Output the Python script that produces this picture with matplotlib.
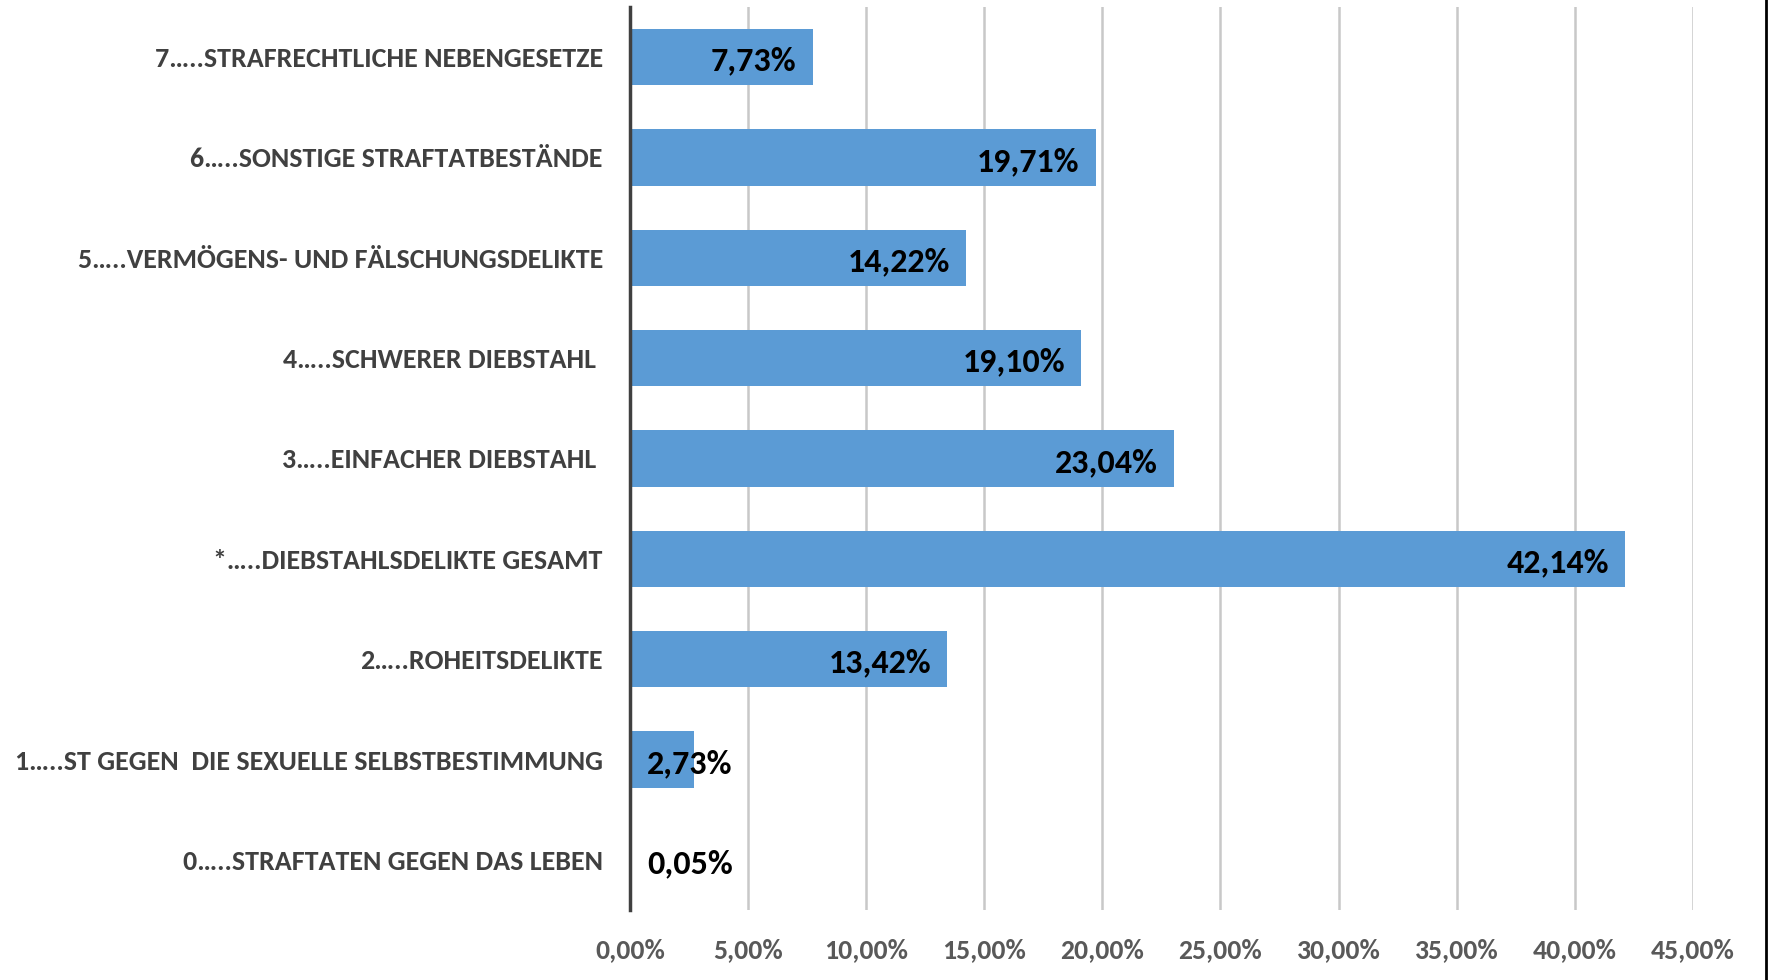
import matplotlib.pyplot as plt
from matplotlib.lines import Line2D
from matplotlib.ticker import FuncFormatter

plt.rcParams['font.family'] = ['Carlito', 'Liberation Sans', 'DejaVu Sans']

# Kategorien von unten nach oben
categories = [
    "0…..STRAFTATEN GEGEN DAS LEBEN",
    "1…..ST GEGEN  DIE SEXUELLE SELBSTBESTIMMUNG",
    "2…..ROHEITSDELIKTE",
    "*…..DIEBSTAHLSDELIKTE GESAMT",
    "3…..EINFACHER DIEBSTAHL ",
    "4…..SCHWERER DIEBSTAHL ",
    "5…..VERMÖGENS- UND FÄLSCHUNGSDELIKTE",
    "6…..SONSTIGE STRAFTATBESTÄNDE",
    "7…..STRAFRECHTLICHE NEBENGESETZE",
]
shares = [0.05, 2.73, 13.42, 42.14, 23.04, 19.10, 14.22, 19.71, 7.73]
x_ticks = [0, 5, 10, 15, 20, 25, 30, 35, 40, 45]

BAR_COLOR = "#5B9BD5"


def pct(v):
    return f"{v:.2f}%".replace(".", ",")


fig = plt.figure(figsize=(17.69, 9.80), dpi=100)
ax = fig.add_axes((0.3561, 0.0714, 0.6009, 0.9215))

ypos = list(range(len(categories)))
ax.barh(ypos, shares, height=0.56, color=BAR_COLOR, zorder=2)

# Datenbeschriftungen (bei kurzen Balken links am Balkenanfang)
for y, v in zip(ypos, shares):
    if v < 5:
        ax.annotate(pct(v), (0, y), xytext=(17, -4), textcoords="offset pixels",
                    ha="left", va="center", fontsize=24.5, fontweight="bold",
                    color="black", zorder=3)
    else:
        ax.annotate(pct(v), (v, y), xytext=(-16, -4), textcoords="offset pixels",
                    ha="right", va="center", fontsize=24.5, fontweight="bold",
                    color="black", zorder=3)

ax.set_xlim(0, 45)
ax.set_ylim(-0.5, len(categories) - 0.5)
ax.set_xticks(x_ticks)
ax.xaxis.set_major_formatter(FuncFormatter(lambda v, _: pct(v)))
ax.set_yticks(ypos)
ax.set_yticklabels(categories)

ax.tick_params(axis="x", length=0, pad=20.5, labelsize=20, labelcolor="#595959")
ax.tick_params(axis="y", length=0, pad=19.5, labelsize=20.2, labelcolor="#404040")
for lab in ax.get_xticklabels() + ax.get_yticklabels():
    lab.set_fontweight("bold")

ax.grid(axis="x", color="#C8C8C8", linewidth=1.8, zorder=0)
ax.set_axisbelow(True)
for side in ("top", "right", "bottom"):
    ax.spines[side].set_visible(False)
ax.spines["left"].set_color("#404040")
ax.spines["left"].set_linewidth(2.5)
ax.spines["left"].set_zorder(4)

# Rahmenlinie rechts
fig.add_artist(Line2D([0.9985, 0.9985], [0, 1], transform=fig.transFigure,
                      color="black", linewidth=2))

fig.savefig("out.png", dpi=100)
